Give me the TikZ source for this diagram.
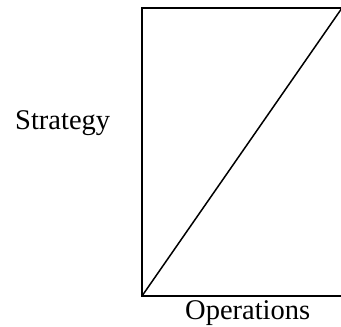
\documentclass[tikz,border=0pt]{standalone}
\usepackage{fontspec}
\setmainfont{Liberation Serif}
\begin{document}
\begin{tikzpicture}[x=1pt,y=-1pt,
  lbl/.style={inner sep=0pt,font=\fontsize{28.5pt}{31pt}\selectfont},
  frame/.style={line width=2pt},
  diag/.style={line width=1.5pt}]
\useasboundingbox (0,0) rectangle (341,327);
\begin{scope}
\clip (0,0) rectangle (341,327);
\coordinate (bl) at (142,296);
\coordinate (tr) at (342,8);
\coordinate (tl) at (142,8);
\coordinate (br) at (342,296);
\draw[frame] (br) -- (bl) -- (tl) -- (tr) -- cycle;
\draw[diag] (bl) -- (tr);
\end{scope}
\node[lbl,anchor=base west] (s) at (15,129.5) {Strategy};
\node[lbl,anchor=base west] (o) at (185,319) {Operations};
\end{tikzpicture}
\end{document}
